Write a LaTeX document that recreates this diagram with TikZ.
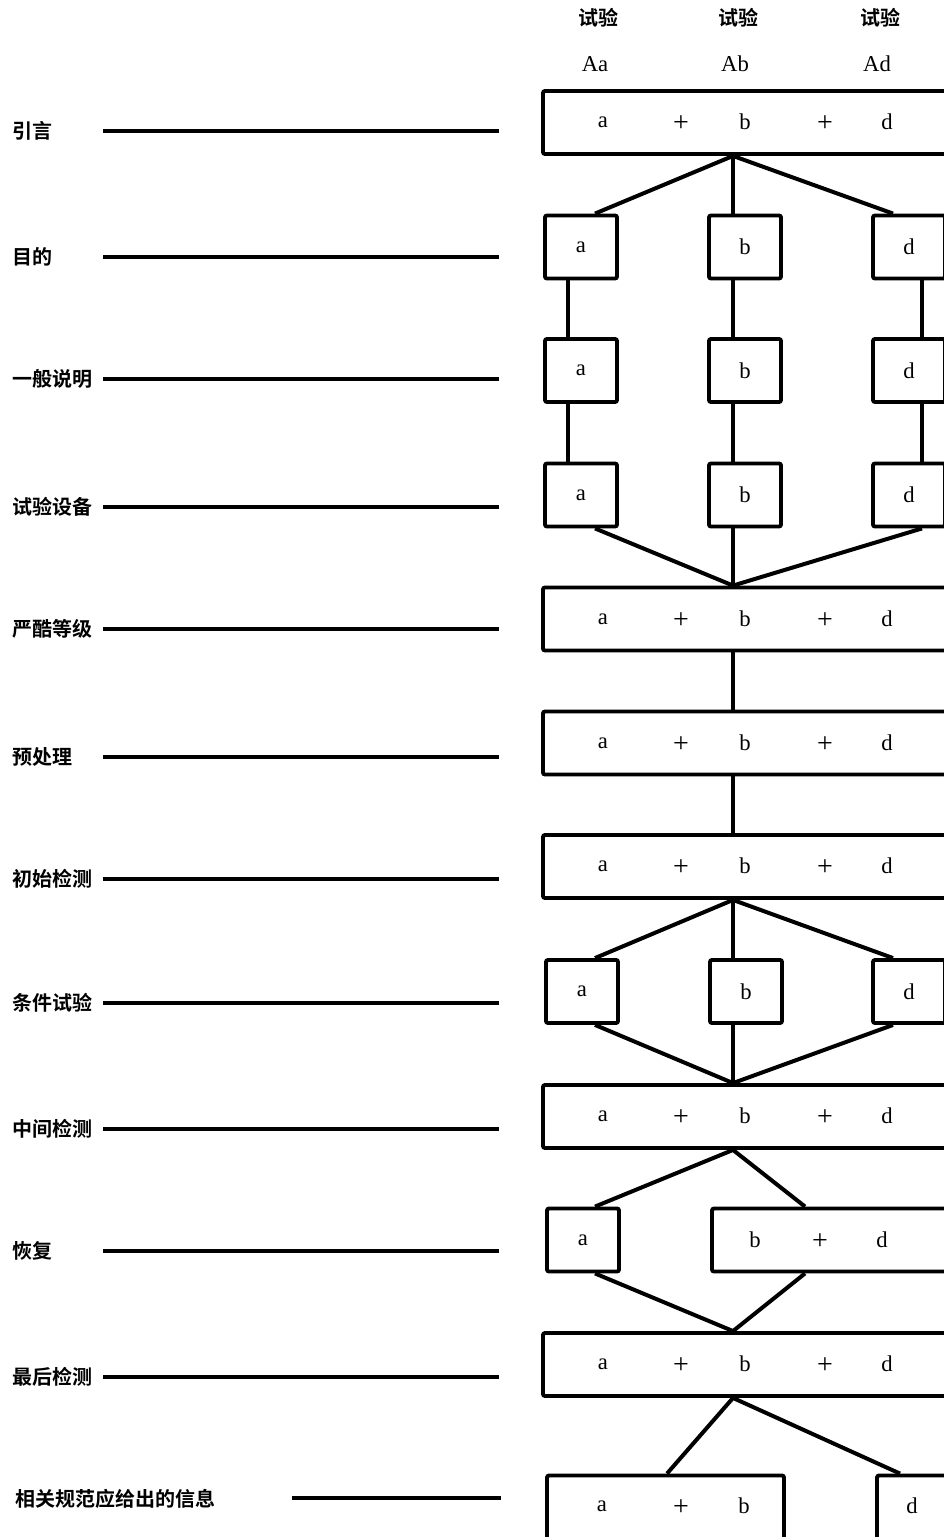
\documentclass[tikz,border=0pt]{standalone}
\usepackage{fontspec}
\setmainfont{Liberation Serif}
\newfontfamily\cjk{Noto Sans CJK SC}[BoldFont={Noto Sans CJK SC Bold}]

\begin{document}
\begin{tikzpicture}[x=0.75pt,y=-0.75pt]
        \tikzstyle{every node}=[inner sep=0pt, font=\fontsize{17}{19}\selectfont]
        \tikzstyle{box}=[rectangle, draw=black, line width=2.9pt, rounded corners=1.5pt, minimum height=63*0.75pt]
        \tikzstyle{wide}=[box, minimum width=422*0.75pt]
        \tikzstyle{small}=[box, minimum width=72*0.75pt]
        \tikzstyle{plus}=[font=\fontsize{21}{21}\selectfont, yshift=-1.5pt]
        \tikzstyle{stage}=[anchor=west, font=\fontsize{15}{16}\cjk\bfseries]
        \tikzstyle{head}=[font=\fontsize{15}{16}\cjk\bfseries]
        \tikzstyle{rule}=[black, line width=2.7pt]
        \tikzstyle{edge}=[black, line width=3pt]
        \tikzstyle{vline}=[black, line width=2.3pt]

        \useasboundingbox (0,0) rectangle (944,1537);
        \clip (0,0) rectangle (944,1537);

        % column positions of the connectors
        \coordinate (xa)  at (568,0);
        \coordinate (xas) at (595,0);
        \coordinate (xb)  at (733,0);
        \coordinate (xd)  at (922,0);
        \coordinate (xds) at (893,0);
        \coordinate (xbd) at (805,0);
        \coordinate (xab) at (667,0);
        \coordinate (xdd) at (900,0);

        % headings
        \node[head] (h1) at (598,18) {试验};
        \node[head] (h2) at (738,18) {试验};
        \node[head] (h3) at (880,18) {试验};
        \node (Aa) at (595,64) {Aa};
        \node (Ab) at (735,64) {Ab};
        \node (Ad) at (877,64) {Ad};

        % stages on the left
        \foreach \y/\t [count=\i] in {131/引言, 257/目的, 379/一般说明, 507/试验设备, 629/严酷等级, 757/预处理,
                                     879/初始检测, 1003/条件试验, 1129/中间检测, 1251/恢复, 1377/最后检测} {
            \node[stage] (s\i) at (12,\y) {\t};
            \coordinate (l\i) at (103,\y);
            \coordinate (m\i) at (499,\y);
            \draw[rule] (l\i) -- (m\i);
        }
        \node[stage] (s12) at (15,1499) {相关规范应给出的信息};
        \coordinate (l12) at (292,1498);
        \coordinate (m12) at (501,1498);
        \draw[rule] (l12) -- (m12);

        % combined rows
        \node[wide] (r1)  at (754,122.5)  {};
        \node[wide] (r5)  at (754,619)    {};
        \node[wide] (r6)  at (754,743)    {};
        \node[wide] (r7)  at (754,866.5)  {};
        \node[wide] (r9)  at (754,1116.5) {};
        \node[wide] (r11) at (754,1364.5) {};
        \foreach \n/\y in {r1/122, r5/619, r6/743, r7/866, r9/1116, r11/1364} {
            \node (\n a)        at (603,\y) {a};
            \node[plus] (\n p1) at (681,\y) {+};
            \node (\n b)        at (745,\y) {b};
            \node[plus] (\n p2) at (825,\y) {+};
            \node (\n d)        at (887,\y) {d};
        }

        % separate rows
        \node[small] (a2) at (581,247)   {a};
        \node[small] (b2) at (745,247)   {b};
        \node[small] (d2) at (909,247)   {d};
        \node[small] (a3) at (581,370.5) {a};
        \node[small] (b3) at (745,370.5) {b};
        \node[small] (d3) at (909,370.5) {d};
        \node[small] (a4) at (581,495)   {a};
        \node[small] (b4) at (745,495)   {b};
        \node[small] (d4) at (909,495)   {d};
        \node[small] (a8) at (582,991.5) {a};
        \node[small] (b8) at (746,991.5) {b};
        \node[small] (d8) at (909,991.5) {d};

        \node[small] (a10) at (583,1240) {a};
        \node[box, minimum width=253*0.75pt] (bd10) at (838.5,1240) {};
        \node (bd10b)       at (755,1240) {b};
        \node[plus] (bd10p) at (820,1240) {+};
        \node (bd10d)       at (882,1240) {d};

        \node[box, minimum width=237*0.75pt, minimum height=69*0.75pt] (ab12) at (665.5,1510) {};
        \node (ab12a)       at (602,1506) {a};
        \node[plus] (ab12p) at (681,1506) {+};
        \node (ab12b)       at (744,1506) {b};
        \node[box, minimum width=88*0.75pt, minimum height=69*0.75pt] (d12) at (921,1510) {};
        \node (d12d) at (912,1506) {d};

        % connectors
        \draw[edge] (a2.north -| xas) -- (r1.south -| xb) -- (d2.north -| xds);
        \draw[vline] (r1.south -| xb) -- (b2.north -| xb);

        \draw[vline] (a2.south -| xa) -- (a3.north -| xa);
        \draw[vline] (a3.south -| xa) -- (a4.north -| xa);
        \draw[vline] (b2.south -| xb) -- (b3.north -| xb);
        \draw[vline] (b3.south -| xb) -- (b4.north -| xb);
        \draw[vline] (d2.south -| xd) -- (d3.north -| xd);
        \draw[vline] (d3.south -| xd) -- (d4.north -| xd);

        \draw[edge] (a4.south -| xas) -- (r5.north -| xb) -- (d4.south -| xd);
        \draw[vline] (b4.south -| xb) -- (r5.north -| xb);

        \draw[vline] (r5.south -| xb) -- (r6.north -| xb);
        \draw[vline] (r6.south -| xb) -- (r7.north -| xb);

        \draw[edge] (a8.north -| xas) -- (r7.south -| xb) -- (d8.north -| xds);
        \draw[vline] (r7.south -| xb) -- (b8.north -| xb);
        \draw[edge] (a8.south -| xas) -- (r9.north -| xb) -- (d8.south -| xds);
        \draw[vline] (b8.south -| xb) -- (r9.north -| xb);

        \draw[edge] (a10.north -| xas) -- (r9.south -| xb) -- (bd10.north -| xbd);
        \draw[edge] (a10.south -| xas) -- (r11.north -| xb) -- (bd10.south -| xbd);

        \draw[edge] (ab12.north -| xab) -- (r11.south -| xb) -- (d12.north -| xdd);
\end{tikzpicture}
\end{document}
